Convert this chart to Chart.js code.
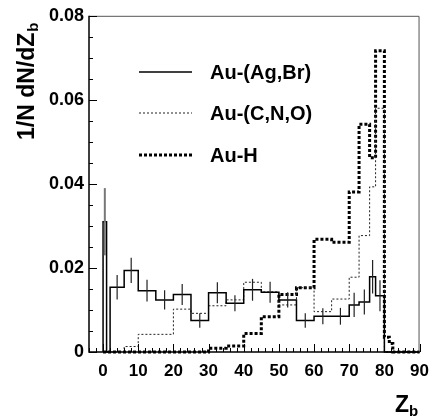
<!DOCTYPE html>
<html>
<head>
<meta charset="utf-8">
<script src="https://cdn.jsdelivr.net/npm/chart.js@4.4.1/dist/chart.umd.min.js"></script>
<style>
  html, body { margin: 0; padding: 0; background: #fff; }
  #wrap { width: 438px; height: 417px; }
</style>
</head>
<body>
<div id="wrap"><canvas id="chart" width="438" height="417"></canvas></div>
<script>
// --- histogram bins (Z_b edges) and contents ---
const edgesAgBr = [0, 1, 2, 6, 10, 15, 20, 25, 30, 35, 40, 45, 50, 55, 60, 65, 70, 72.8, 75.8, 77.5, 80, 90];
const valsAgBr  = [0.031, 0, 0.0154, 0.0194, 0.0146, 0.0124, 0.0137, 0.0075, 0.0141, 0.0116, 0.0148,
                   0.0142, 0.0124, 0.0075, 0.0085, 0.0085, 0.0112, 0.0119, 0.0179, 0.0134, 0];
const errAgBr   = [0.008, 0, 0.0029, 0.003, 0.0026, 0.0023, 0.0025, 0.0017, 0.0025, 0.0019, 0.0026,
                   0.0025, 0.0018, 0.0017, 0.0019, 0.002, 0.0029, 0.003, 0.004, 0.0037, 0];

const edgesCNO = [0, 6, 10, 20, 25, 30, 35, 40, 45, 50, 55, 60, 65, 70, 72.8, 75.8, 77.5, 80, 90];
const valsCNO  = [0, 0.0013, 0.0042, 0.0102, 0.0092, 0.011, 0.0124, 0.0166, 0.0143, 0.0112, 0.0153,
                  0.0096, 0.0126, 0.0178, 0.0277, 0.0393, 0.058, 0];

const edgesH = [0, 30, 35, 40, 45, 50, 55, 60, 65, 70, 72.8, 75.8, 77.5, 80, 81.4, 82.4, 90];
const valsH  = [0, 0.0009, 0.0014, 0.0044, 0.0084, 0.0137, 0.0153, 0.0268, 0.0261, 0.0381, 0.0542,
                0.0462, 0.0717, 0.0035, 0.002, 0];

const seriesNames = ["Au-(Ag,Br)", "Au-(C,N,O)", "Au-H"];
const xTicks = [0, 10, 20, 30, 40, 50, 60, 70, 80, 90];
const yTicks = [0, 0.02, 0.04, 0.06, 0.08];

const FONT = "'Liberation Sans', Arial, Helvetica, sans-serif";

// histogram -> step line points
function stepPoints(edges, vals) {
  const pts = [{ x: edges[0], y: 0 }];
  vals.forEach((v, i) => pts.push({ x: edges[i], y: v }));
  pts.push({ x: edges[edges.length - 1], y: 0 });
  return pts;
}

// frame, inner ticks, error bars, axis titles, legend
const rootStyle = {
  id: "rootStyle",
  afterDatasetsDraw(chart) {
    const ctx = chart.ctx;
    const xs = chart.scales.x, ys = chart.scales.y;
    const a = chart.chartArea;

    // error bars on Au-(Ag,Br)
    ctx.save();
    valsAgBr.forEach((v, i) => {
      const e = errAgBr[i];
      if (!e) return;
      const cx = xs.getPixelForValue((edgesAgBr[i] + edgesAgBr[i + 1]) / 2);
      ctx.strokeStyle = i === 0 ? "#777" : "#222";
      ctx.lineWidth = i === 0 ? 2 : 1.2;
      ctx.beginPath();
      ctx.moveTo(cx, ys.getPixelForValue(v - e));
      ctx.lineTo(cx, ys.getPixelForValue(v + e));
      ctx.stroke();
    });
    ctx.restore();

    // frame
    ctx.save();
    ctx.strokeStyle = "#555";
    ctx.lineWidth = 1;
    ctx.beginPath();
    ctx.moveTo(a.left, a.top + 0.5);
    ctx.lineTo(a.right - 0.5, a.top + 0.5);
    ctx.lineTo(a.right - 0.5, a.bottom);
    ctx.stroke();
    ctx.strokeStyle = "#000";
    ctx.lineWidth = 1.5;
    ctx.beginPath();
    ctx.moveTo(a.left, a.top);
    ctx.lineTo(a.left, a.bottom);
    ctx.lineTo(a.right, a.bottom);
    ctx.stroke();

    // ticks inside the frame
    ctx.lineWidth = 1;
    ctx.beginPath();
    for (let z = -4; z <= 90; z += 2) {
      const px = Math.round(xs.getPixelForValue(z)) + 0.5;
      const len = z % 10 === 0 ? 8 : 4;
      ctx.moveTo(px, a.bottom);
      ctx.lineTo(px, a.bottom - len);
    }
    for (let k = 0; k <= 16; k++) {
      const py = Math.round(ys.getPixelForValue(k * 0.005)) + 0.5;
      const len = k % 4 === 0 ? 8 : 4;
      ctx.moveTo(a.left, py);
      ctx.lineTo(a.left + len, py);
    }
    ctx.stroke();
    ctx.restore();

    // axis titles
    ctx.save();
    ctx.fillStyle = "#000";
    ctx.textAlign = "left";
    ctx.textBaseline = "alphabetic";
    ctx.translate(34, 140);
    ctx.rotate(-Math.PI / 2);
    ctx.font = "bold 23px " + FONT;
    const main = "1/N dN/dZ";
    ctx.fillText(main, 0, 0);
    const w = ctx.measureText(main).width;
    ctx.font = "bold 15px " + FONT;
    ctx.fillText("b", w + 1, 4);
    ctx.restore();

    ctx.save();
    ctx.fillStyle = "#000";
    ctx.textAlign = "left";
    ctx.textBaseline = "alphabetic";
    ctx.font = "bold 23px " + FONT;
    ctx.fillText("Z", 395, 412);
    const zw = ctx.measureText("Z").width;
    ctx.font = "bold 15px " + FONT;
    ctx.fillText("b", 395 + zw, 416);
    ctx.restore();

    // legend
    const rows = [72, 113, 155];
    ctx.save();
    chart.data.datasets.forEach((ds, i) => {
      ctx.strokeStyle = ds.borderColor;
      ctx.lineWidth = ds.borderWidth;
      ctx.setLineDash(ds.borderDash || []);
      ctx.beginPath();
      ctx.moveTo(139, rows[i]);
      ctx.lineTo(192, rows[i]);
      ctx.stroke();
      ctx.setLineDash([]);
      ctx.fillStyle = "#000";
      ctx.font = "bold 20px " + FONT;
      ctx.textAlign = "left";
      ctx.textBaseline = "middle";
      ctx.fillText(ds.label, 210, rows[i] + 1);
    });
    ctx.restore();
  }
};

new Chart(document.getElementById("chart"), {
  type: "line",
  data: {
    datasets: [
      {
        label: seriesNames[0],
        data: stepPoints(edgesAgBr, valsAgBr),
        stepped: "before",
        borderColor: "#000",
        borderWidth: 1.5,
        pointRadius: 0,
        fill: false,
        clip: false
      },
      {
        label: seriesNames[1],
        data: stepPoints(edgesCNO, valsCNO),
        stepped: "before",
        borderColor: "#222",
        borderWidth: 1,
        borderDash: [2, 2],
        pointRadius: 0,
        fill: false,
        clip: false
      },
      {
        label: seriesNames[2],
        data: stepPoints(edgesH, valsH),
        stepped: "before",
        borderColor: "#000",
        borderWidth: 3,
        borderDash: [3, 2],
        pointRadius: 0,
        fill: false,
        clip: false
      }
    ]
  },
  options: {
    responsive: false,
    animation: false,
    devicePixelRatio: 1,
    layout: { padding: { top: 15, right: 14, left: 0, bottom: 0 } },
    plugins: { legend: { display: false }, tooltip: { enabled: false } },
    scales: {
      x: {
        type: "linear",
        min: -4,
        max: 90,
        grid: { display: false, drawTicks: false },
        border: { display: false },
        afterBuildTicks: s => { s.ticks = xTicks.map(v => ({ value: v })); },
        afterFit: s => { s.height = 65; },
        ticks: {
          padding: 9,
          maxRotation: 0,
          autoSkip: false,
          color: "#000",
          font: { family: FONT, size: 17, weight: "bold" },
          callback: v => String(v)
        }
      },
      y: {
        type: "linear",
        min: 0,
        max: 0.08,
        grid: { display: false, drawTicks: false },
        border: { display: false },
        afterBuildTicks: s => { s.ticks = yTicks.map(v => ({ value: v })); },
        afterFit: s => { s.width = 89; },
        ticks: {
          padding: 5,
          color: "#000",
          font: { family: FONT, size: 18, weight: "bold" },
          callback: v => (v === 0 ? "0" : v.toFixed(2))
        }
      }
    }
  },
  plugins: [rootStyle]
});
</script>
</body>
</html>
